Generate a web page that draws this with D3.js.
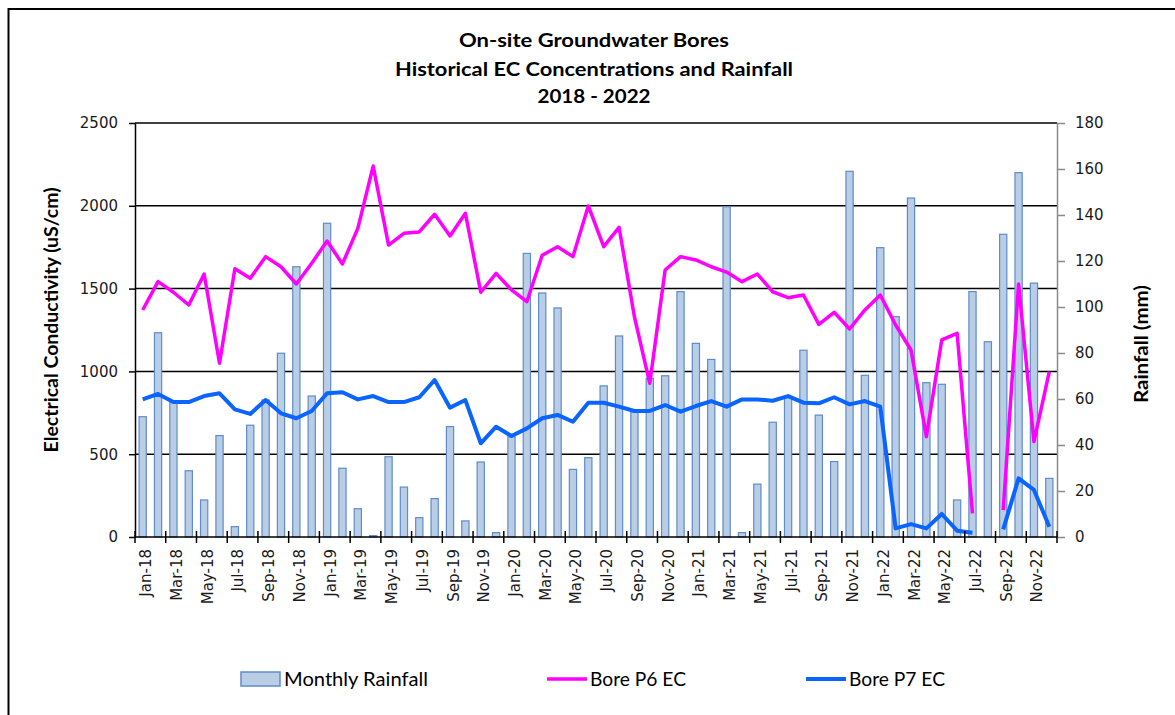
<!DOCTYPE html>
<html>
<head>
<meta charset="utf-8">
<script src="https://cdn.jsdelivr.net/npm/d3@7"></script>
<style>
  body { margin: 0; background: #fff; }
  svg { display: block; }
</style>
</head>
<body>
<script>
// Monthly data, Jan-18 .. Dec-22
const months = d3.timeMonth.range(new Date(2018, 0, 1), new Date(2023, 0, 1)).map(d3.timeFormat("%b-%y"));

// rainfall in mm (right axis)
const rainfall = [52.3, 88.8, 58.4, 28.8, 16.1, 44.1, 4.5, 48.6, 59.6, 79.9,
  117.5, 61.3, 136.4, 29.9, 12.3, 0.6, 34.9, 21.7, 8.4, 16.7,
  48.0, 7.0, 32.6, 1.9, 43.6, 123.3, 106.1, 99.6, 29.4, 34.5,
  65.7, 87.4, 54.5, 69.0, 70.1, 106.7, 84.2, 77.2, 143.6, 1.9,
  23.0, 49.9, 60.7, 81.2, 53.0, 32.8, 159.0, 70.3, 125.8, 95.8,
  147.4, 67.1, 66.4, 16.1, 106.7, 84.9, 131.6, 158.4, 110.4, 25.5];

// EC in uS/cm (left axis)
const boreP6 = [1371, 1542, 1478, 1401, 1588, 1049, 1620, 1562, 1693, 1632,
  1528, 1653, 1787, 1649, 1864, 2240, 1763, 1834, 1842, 1949,
  1818, 1955, 1478, 1592, 1492, 1421, 1701, 1753, 1693, 1999,
  1753, 1870, 1330, 928, 1612, 1693, 1673, 1632, 1600, 1542,
  1588, 1481, 1445, 1461, 1284, 1357, 1256, 1371, 1461, 1280,
  1129, 606, 1190, 1230, 143, null, 163, 1528, 576, 998];

const boreP7 = [831, 864, 815, 815, 851, 868, 771, 743, 827, 747,
  717, 761, 868, 874, 831, 851, 815, 815, 844, 948,
  781, 827, 566, 666, 610, 656, 717, 737, 696, 811,
  811, 787, 761, 761, 797, 757, 791, 821, 787, 831,
  831, 823, 851, 811, 807, 844, 801, 821, 787, 52,
  78, 52, 139, 38, 26, null, 46, 354, 284, 62];

const ecTicks = [0, 500, 1000, 1500, 2000, 2500];
const rainTicks = [0, 20, 40, 60, 80, 100, 120, 140, 160, 180];
const titleLines = ["On-site Groundwater Bores", "Historical EC Concentrations and Rainfall", "2018 - 2022"];

const W = 1175, H = 715;
const plot = { left: 135, right: 1057, top: 123, bottom: 537 };
const tickFont = "'DejaVu Sans', Verdana, sans-serif";
const labelFont = "Lato, 'Open Sans', sans-serif";

const svg = d3.select("body").append("svg")
  .attr("width", W)
  .attr("height", H);

// outer frame (runs off the right and bottom edges)
svg.append("rect")
  .attr("x", 8.5).attr("y", 9)
  .attr("width", 1300).attr("height", 900)
  .attr("fill", "none")
  .attr("stroke", "#000")
  .attr("stroke-width", 2);

// scales
const x = d3.scaleBand()
  .domain(months)
  .range([plot.left, plot.right])
  .paddingInner(0).paddingOuter(0);

const yEC = d3.scaleLinear().domain([0, 2500]).range([plot.bottom, plot.top]);
const yRain = d3.scaleLinear().domain([0, 180]).range([plot.bottom, plot.top]);

// gridlines
svg.append("g")
  .selectAll("line")
  .data(ecTicks.slice(1))
  .enter().append("line")
  .attr("x1", plot.left).attr("x2", plot.right)
  .attr("y1", d => yEC(d)).attr("y2", d => yEC(d))
  .attr("stroke", "#000")
  .attr("stroke-width", 1.5);

// rainfall bars
const barW = x.bandwidth() * 0.47;
svg.append("g")
  .selectAll("rect")
  .data(rainfall)
  .enter().append("rect")
  .attr("x", (d, i) => x(months[i]) + x.bandwidth() / 2 - barW / 2)
  .attr("y", d => yRain(d))
  .attr("width", barW)
  .attr("height", d => yRain(0) - yRain(d))
  .attr("fill", "#b9cde5")
  .attr("stroke", "#5f8ccb")
  .attr("stroke-width", 1.2);

// EC lines
const line = values => d3.line()
  .defined(d => d != null)
  .x((d, i) => x(months[i]) + x.bandwidth() / 2)
  .y(d => yEC(d))(values);

svg.append("path")
  .attr("d", line(boreP6))
  .attr("fill", "none")
  .attr("stroke", "#ff00ff")
  .attr("stroke-width", 3.5)
  .attr("stroke-linejoin", "round");

svg.append("path")
  .attr("d", line(boreP7))
  .attr("fill", "none")
  .attr("stroke", "#0a64ff")
  .attr("stroke-width", 4)
  .attr("stroke-linejoin", "round");

// left axis
const leftAxis = svg.append("g")
  .attr("transform", `translate(${plot.left},0)`)
  .call(d3.axisLeft(yEC).tickValues(ecTicks).tickFormat(d3.format("d"))
    .tickSize(6).tickSizeOuter(0).tickPadding(11));
leftAxis.select(".domain").attr("stroke", "#000").attr("stroke-width", 1.5);
leftAxis.selectAll(".tick line").attr("stroke", "#000").attr("stroke-width", 1.5);
leftAxis.selectAll("text")
  .attr("font-family", tickFont).attr("font-size", 15).attr("fill", "#1a1a1a");

// right axis
const rightAxis = svg.append("g")
  .attr("transform", `translate(${plot.right},0)`)
  .call(d3.axisRight(yRain).tickValues(rainTicks).tickSize(8).tickSizeOuter(0).tickPadding(10));
rightAxis.select(".domain").attr("stroke", "#8a8a8a").attr("stroke-width", 1.5);
rightAxis.selectAll(".tick line").attr("stroke", "#8a8a8a").attr("stroke-width", 1.5);
rightAxis.selectAll("text")
  .attr("font-family", tickFont).attr("font-size", 15).attr("fill", "#1a1a1a");

// bottom axis: ticks every two months at category edges
const xg = svg.append("g");
xg.append("line")
  .attr("x1", plot.left).attr("x2", plot.right)
  .attr("y1", plot.bottom).attr("y2", plot.bottom)
  .attr("stroke", "#000").attr("stroke-width", 1.5);

const edgeTicks = d3.range(0, months.length + 1, 2);
xg.selectAll(".xtick")
  .data(edgeTicks)
  .enter().append("line")
  .attr("x1", k => k < months.length ? x(months[k]) : plot.right)
  .attr("x2", k => k < months.length ? x(months[k]) : plot.right)
  .attr("y1", plot.bottom - 6).attr("y2", plot.bottom + 6)
  .attr("stroke", "#000").attr("stroke-width", 1.5);

xg.selectAll(".xlabel")
  .data(months.filter((m, i) => i % 2 === 0))
  .enter().append("text")
  .attr("transform", d => `translate(${x(d) + x.bandwidth() / 2 + 8.5},549) rotate(-90)`)
  .attr("text-anchor", "end")
  .attr("font-family", tickFont)
  .attr("font-size", 15)
  .attr("fill", "#1a1a1a")
  .text(d => d);

// titles
const titleY = [47, 76, 103];
const titleLen = [270, 398, 113];
svg.append("g")
  .selectAll("text")
  .data(titleLines)
  .enter().append("text")
  .attr("x", 594)
  .attr("y", (d, i) => titleY[i])
  .attr("text-anchor", "middle")
  .attr("font-family", labelFont)
  .attr("font-weight", "bold")
  .attr("font-size", 19)
  .attr("textLength", (d, i) => titleLen[i])
  .attr("lengthAdjust", "spacingAndGlyphs")
  .text(d => d);

// axis titles
svg.append("text")
  .attr("transform", "translate(58,320) rotate(-90)")
  .attr("text-anchor", "middle")
  .attr("font-family", labelFont)
  .attr("font-weight", "bold")
  .attr("font-size", 18)
  .attr("textLength", 265)
  .attr("lengthAdjust", "spacingAndGlyphs")
  .text("Electrical Conductivity (uS/cm)");

svg.append("text")
  .attr("transform", "translate(1148,344) rotate(-90)")
  .attr("text-anchor", "middle")
  .attr("font-family", labelFont)
  .attr("font-weight", "bold")
  .attr("font-size", 18)
  .attr("textLength", 118)
  .attr("lengthAdjust", "spacingAndGlyphs")
  .text("Rainfall (mm)");

// legend
const legend = svg.append("g");
legend.append("rect")
  .attr("x", 241).attr("y", 672)
  .attr("width", 39).attr("height", 14)
  .attr("fill", "#b9cde5").attr("stroke", "#5f8ccb").attr("stroke-width", 1.5);
legend.append("text")
  .attr("x", 284).attr("y", 686)
  .attr("font-family", labelFont).attr("font-size", 19)
  .attr("textLength", 144).attr("lengthAdjust", "spacingAndGlyphs")
  .text("Monthly Rainfall");

legend.append("line")
  .attr("x1", 547).attr("x2", 587).attr("y1", 679).attr("y2", 679)
  .attr("stroke", "#ff00ff").attr("stroke-width", 3.5);
legend.append("text")
  .attr("x", 590).attr("y", 686)
  .attr("font-family", labelFont).attr("font-size", 19)
  .attr("textLength", 96).attr("lengthAdjust", "spacingAndGlyphs")
  .text("Bore P6 EC");

legend.append("line")
  .attr("x1", 806).attr("x2", 846).attr("y1", 679).attr("y2", 679)
  .attr("stroke", "#0a64ff").attr("stroke-width", 4);
legend.append("text")
  .attr("x", 849).attr("y", 686)
  .attr("font-family", labelFont).attr("font-size", 19)
  .attr("textLength", 96).attr("lengthAdjust", "spacingAndGlyphs")
  .text("Bore P7 EC");
</script>
</body>
</html>
